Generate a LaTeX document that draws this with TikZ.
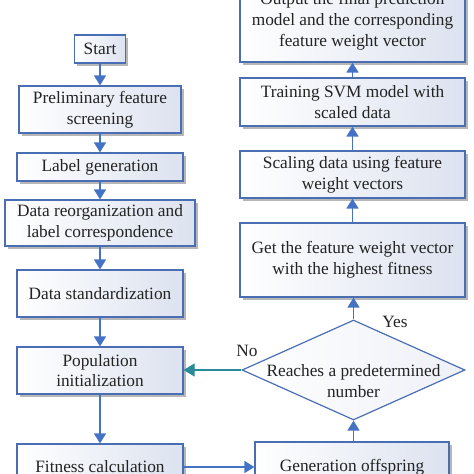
\documentclass[tikz,border=0pt]{standalone}
\usepackage{fontspec}
\setmainfont{Liberation Serif}
\usetikzlibrary{arrows.meta,shapes.geometric,shadows}
\definecolor{boxline}{RGB}{74,110,180}
\definecolor{arrowblue}{RGB}{68,114,196}
\definecolor{boxfill}{RGB}{220,226,239}
\definecolor{noteal}{RGB}{40,138,155}
\definecolor{txt}{RGB}{35,35,35}
\tikzset{
    stepbox/.style={draw=boxline, line width=1.2pt, left color=white, right color=boxfill,
        align=center, inner sep=0pt, text=txt, font=\fontsize{17.3}{20.8}\selectfont,
        drop shadow={shadow xshift=2.5pt, shadow yshift=-2.5pt, opacity=0.4, fill=black!70}},
    flow/.style={draw=arrowblue, line width=1.5pt, -{Triangle[width=12pt,length=10pt]}},
    lbl/.style={text=txt, font=\fontsize{17.3}{20.8}\selectfont, align=center, inner sep=0pt}
}
\begin{document}
\begin{tikzpicture}[x=1pt,y=-1pt]
        \useasboundingbox (0,0) rectangle (474,474);
        \clip (0,0) rectangle (474,474);
        %% left column
        \node[stepbox, minimum width=51pt, minimum height=28pt] (start) at (100,49) {Start};
        \node[stepbox, minimum width=162pt, minimum height=47pt] (prelim) at (100,109.5) {Preliminary feature\\screening};
        \node[stepbox, minimum width=166pt, minimum height=28pt] (labgen) at (100,167) {Label generation};
        \node[stepbox, minimum width=190pt, minimum height=46pt] (reorg) at (100,223) {Data reorganization and\\label correspondence};
        \node[stepbox, minimum width=166pt, minimum height=47pt] (stand) at (100,293.5) {Data standardization};
        \node[stepbox, minimum width=166pt, minimum height=47pt] (popinit) at (100,370.5) {Population\\initialization};
        \node[stepbox, minimum width=166pt, minimum height=46pt] (fitness) at (100,467) {Fitness calculation};
        %% right column
        \node[stepbox, minimum width=194pt, minimum height=50pt] (offspring) at (352,467) {Generation offspring};
        \node[draw=boxline, line width=1.2pt, shape=diamond, left color=white, right color=boxfill!50,
            minimum width=223pt, minimum height=100pt, inner sep=0pt] (reach) at (353.5,370) {};
        \node[lbl] (reachtxt) at (353.5,381) {Reaches a predetermined\\number};
        \node[stepbox, minimum width=225pt, minimum height=74pt] (best) at (352.5,260) {Get the feature weight vector\\with the highest fitness};
        \node[stepbox, minimum width=225pt, minimum height=47pt] (scale) at (352.5,174.5) {Scaling data using feature\\weight vectors};
        \node[stepbox, minimum width=225pt, minimum height=48pt] (train) at (352.5,102) {Training SVM model with\\scaled data};
        \node[stepbox, minimum width=225pt, minimum height=82pt] (output) at (352.5,21) {Output the final prediction\\model and the corresponding\\feature weight vector};
        %% connectors
        \foreach \a/\b in {start/prelim,prelim/labgen,labgen/reorg,reorg/stand,stand/popinit,popinit/fitness}
            \draw[flow] (\a.south) -- (\a.south |- \b.north);
        \draw[flow] (fitness.east) -- (offspring.west);
        \draw[flow] (offspring.north -| reach.south) -- (reach.south);
        \draw[flow] (reach.north) -- (reach.north |- best.south);
        \foreach \a/\b in {best/scale,scale/train,train/output}
            \draw[flow] (\a.north) -- (\a.north -| \b.south) -- (\b.south);
        \draw[noteal, line width=1.2pt, -{Triangle[width=13pt,length=11pt]}] (reach.west) -- (reach.west -| popinit.east);
        \node[lbl] (yes) at (395,322) {Yes};
        \node[lbl] (no) at (247,351) {No};
    \end{tikzpicture}
\end{document}
